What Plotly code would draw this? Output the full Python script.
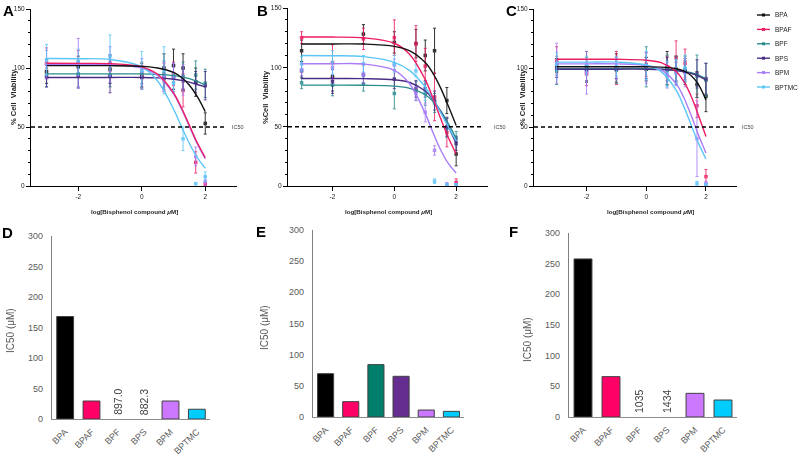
import plotly.graph_objects as go

W, H = 800, 457

COMPOUNDS = ["BPA", "BPAF", "BPF", "BPS", "BPM", "BPTMC"]
LOG_CONC = [-3, -2, -1, 0, 0.699, 1, 1.301, 1.699, 2]
FIT_LOG = [-3, -2, -1, 0, 0.5, 1, 1.25, 1.5, 1.75, 2]

LINE_COLORS = ["#111111", "#EC1C64", "#2B8C8C", "#4B2C85", "#A97CF8", "#5CC6F7"]
BAR_COLORS = ["#000000", "#FF0066", "#007F6C", "#662D91", "#CC77FF", "#00CCFF"]

# ---- Panel A (cell viability, %) ----
A_MEAN = {
    "BPA":   [97, 101, 99, 94, 100, 102, 100, 88, 53],
    "BPAF":  [104, 104, 104, 92, 92, 95, 81, 20, 1],
    "BPF":   [94, 95, 94, 96, 95, 93, 93, 94, 87],
    "BPS":   [92, 93, 93, 92, 91, 92, 91, 88, 85],
    "BPM":   [103, 104, 103, 97, 93, 92, 90, 25, 4],
    "BPTMC": [107, 105, 110, 98, 98, 87, 40, 2, 8],
}
A_SD = {
    "BPA":   [10, 9, 12, 10, 12, 14, 12, 12, 9],
    "BPAF":  [13, 11, 7, 10, 12, 10, 14, 9, 2],
    "BPF":   [10, 11, 10, 9, 11, 11, 12, 12, 12],
    "BPS":   [8, 10, 14, 9, 9, 10, 9, 9, 12],
    "BPM":   [12, 21, 15, 11, 12, 12, 13, 8, 4],
    "BPTMC": [13, 11, 18, 16, 20, 8, 10, 1, 4],
}
A_FIT = {
    "BPA":   [102, 102, 102, 101.4, 100, 96.2, 92, 85.4, 75.7, 63],
    "BPAF":  [104, 103.9, 103.7, 101, 94.7, 79, 66.3, 51.5, 36.6, 24.1],
    "BPF":   [95, 95, 95, 95, 94.6, 93.5, 92.5, 91, 88.6, 85.6],
    "BPS":   [92, 92, 92, 92, 91.6, 90.5, 89.5, 88, 86, 84],
    "BPM":   [103, 102.9, 102.7, 100, 93.7, 78, 65.3, 50.5, 35.6, 23.1],
    "BPTMC": [108, 107.9, 107.2, 101, 89, 65.3, 50.4, 36, 24, 15],
}

# ---- Panel B ----
B_MEAN = {
    "BPA":   [114, 92, 128, 121, 120, 110, 114, 72, 27],
    "BPAF":  [125, 104, 124, 125, 120, 101, 75, 45, 3],
    "BPF":   [87, 85, 86, 78, 80, 78, 70, 49, 40],
    "BPS":   [97, 88, 94, 90, 82, 82, 72, 50, 36],
    "BPM":   [98, 100, 94, 102, 78, 62, 30, 1, 1],
    "BPTMC": [103, 104, 103, 103, 97, 80, 4, 1, 1],
}
B_SD = {
    "BPA":   [9, 12, 8, 9, 12, 13, 19, 11, 10],
    "BPAF":  [5, 15, 9, 15, 15, 15, 20, 12, 3],
    "BPF":   [5, 9, 6, 13, 8, 10, 8, 8, 6],
    "BPS":   [6, 10, 8, 8, 7, 7, 8, 8, 6],
    "BPM":   [5, 10, 9, 5, 6, 8, 4, 2, 1],
    "BPTMC": [6, 10, 7, 7, 5, 8, 2, 1, 1],
}
B_FIT = {
    "BPA":   [119.7, 119.7, 119.6, 117.7, 113.9, 104, 94.9, 82.5, 67.2, 51],
    "BPAF":  [125.5, 125.5, 124.9, 120.3, 110.8, 89.6, 74, 56.8, 40.6, 27],
    "BPF":   [85, 85, 84.9, 84.2, 82.3, 76.9, 71.4, 63.2, 52.4, 40],
    "BPS":   [90.6, 90.6, 90.5, 89.5, 87.2, 80, 72.8, 62.6, 49.7, 36],
    "BPM":   [103, 103, 102.8, 97.5, 86, 61, 45, 30.3, 18.8, 11],
    "BPTMC": [110, 109.8, 109, 104.2, 97.2, 83.3, 73.3, 61.8, 49.7, 38],
}

# ---- Panel C ----
C_MEAN = {
    "BPA":   [102, 101, 100, 99, 100, 99, 97, 86, 76],
    "BPAF":  [106, 95, 100, 103, 101, 109, 104, 68, 8],
    "BPF":   [98, 99, 98, 101, 98, 98, 99, 93, 90],
    "BPS":   [100, 98, 99, 100, 99, 97, 98, 95, 91],
    "BPM":   [104, 96, 100, 100, 94, 96, 96, 40, 2],
    "BPTMC": [103, 102, 101, 102, 95, 97, 100, 2, 1],
}
C_SD = {
    "BPA":   [6, 13, 12, 10, 14, 11, 11, 11, 13],
    "BPAF":  [12, 10, 14, 10, 9, 14, 12, 10, 6],
    "BPF":   [12, 10, 11, 17, 13, 12, 11, 18, 14],
    "BPS":   [8, 9, 8, 9, 10, 8, 8, 12, 13],
    "BPM":   [17, 18, 10, 13, 11, 11, 12, 32, 2],
    "BPTMC": [10, 8, 8, 12, 11, 10, 11, 2, 1],
}
C_FIT = {
    "BPA":   [101, 101, 101, 101, 100.7, 99.4, 97.6, 93.7, 86, 73],
    "BPAF":  [107.4, 107.4, 107.4, 106.6, 104.5, 97, 88.8, 76.3, 59.8, 42],
    "BPF":   [99.5, 99.5, 99.5, 99.5, 99.2, 98.3, 97.4, 96, 94, 91],
    "BPS":   [99, 99, 99, 99, 98.7, 97.8, 96.8, 95.4, 93.2, 90],
    "BPM":   [103.5, 103.5, 103.5, 102.1, 98.5, 86.8, 75.4, 60.1, 43.2, 28],
    "BPTMC": [105, 105, 105, 102.5, 96.9, 81.3, 67.9, 52, 36.1, 23],
}

# ---- IC50 bar panels (uM) ----
D_IC50 = [168, 29.5, None, None, 29.5, 16]
D_LABELS = ["", "", "897.0", "882.3", "", ""]
E_IC50 = [69.5, 24.6, 84, 65.3, 11.2, 9.1]
E_LABELS = ["", "", "", "", "", ""]
F_IC50 = [257.7, 65.8, None, None, 38.6, 27.7]
F_LABELS = ["", "", "1035", "1434", "", ""]

IC50_LINE = 50
FONT = "Liberation Sans, Arial, sans-serif"


def fx(px):
    return px / W


def fy(py):
    return 1 - py / H


fig = go.Figure()
layout = dict(
    width=W, height=H, margin=dict(l=0, r=0, t=0, b=0, autoexpand=False),
    paper_bgcolor="white", plot_bgcolor="white", showlegend=False,
    font=dict(family=FONT, color="#222222"),
)
annotations = []
shapes = []

# ---------- top panels ----------
top_panels = [
    ("", A_MEAN, A_SD, A_FIT, (31, 237), 9, [-3.49, 3.0], "A", (8, 10),
     "% Cell  Viability", 13, 134, (227, 230)),
    ("2", B_MEAN, B_SD, B_FIT, (288, 488), 8, [-3.44, 3.03], "B", (262, 10),
     "%Cell  Viability", 265, 388, (484, 492)),
    ("3", C_MEAN, C_SD, C_FIT, (534, 737), 9, [-3.76, 3.04], "C", (511, 10),
     "% Cell  Viability", 522, 650, (737, 740)),
]

for (s, mean, sd, fit, (x0, x1), ytop, xr, letter, (lx, ly), ylab, ylx, xlx,
     (dash_end, ic_lbl)) in top_panels:
    xa, ya = "x" + s, "y" + s
    layout["xaxis" + s] = dict(
        domain=[fx(x0), fx(x1)], range=xr, anchor=ya, showline=True,
        linecolor="black", linewidth=1, ticks="outside", ticklen=4,
        tickcolor="black", tickvals=[-2, 0, 2], ticktext=["-2", "0", "2"],
        tickfont=dict(size=6.5, family=FONT, color="#222"), showgrid=False,
        zeroline=False, fixedrange=True, automargin=False,
    )
    layout["yaxis" + s] = dict(
        domain=[fy(186), fy(ytop)], range=[0, 150], anchor=xa, showline=True,
        linecolor="black", linewidth=1, ticks="outside", ticklen=4,
        tickcolor="black", tickvals=[0, 50, 100, 150],
        tickfont=dict(size=6.5, family=FONT, color="#222"), showgrid=False,
        zeroline=False, fixedrange=True, automargin=False,
        minor=dict(ticks="outside", ticklen=2, tickcolor="black",
                   tickmode="linear", tick0=0, dtick=10, showgrid=False),
    )
    # data points with SD
    for name, col in zip(COMPOUNDS, LINE_COLORS):
        fig.add_trace(go.Scatter(
            x=LOG_CONC, y=mean[name], mode="markers", xaxis=xa, yaxis=ya,
            marker=dict(size=3.5, color=col, symbol="square"),
            error_y=dict(type="data", array=sd[name], color=col,
                         thickness=1, width=1.5),
            opacity=0.85, cliponaxis=False, showlegend=False,
        ))
    # fitted curves
    for name in ["BPF", "BPS", "BPM", "BPTMC", "BPAF", "BPA"]:
        col = LINE_COLORS[COMPOUNDS.index(name)]
        fig.add_trace(go.Scatter(
            x=FIT_LOG, y=fit[name], mode="lines", xaxis=xa, yaxis=ya,
            line=dict(color=col, width=1.4, shape="spline", smoothing=1.0),
            cliponaxis=False, showlegend=False,
        ))
    # IC50 dashed reference line
    shapes.append(dict(
        type="line", xref="paper", yref=ya, x0=fx(x0), x1=fx(dash_end),
        y0=IC50_LINE, y1=IC50_LINE,
        line=dict(color="black", width=1.5, dash="4px,3px"),
    ))
    annotations.append(dict(
        x=fx(ic_lbl), y=IC50_LINE, xref="paper", yref=ya, text="IC50",
        showarrow=False, xanchor="left", yanchor="middle",
        font=dict(size=5.5, family=FONT, color="#444"),
    ))
    annotations.append(dict(
        x=fx(lx), y=fy(ly), xref="paper", yref="paper", text="<b>%s</b>" % letter,
        showarrow=False, xanchor="center", yanchor="middle",
        font=dict(size=15, family=FONT, color="black"),
    ))
    annotations.append(dict(
        x=fx(ylx), y=fy(97), xref="paper", yref="paper", text="<b>%s</b>" % ylab,
        showarrow=False, textangle=-90, xanchor="center", yanchor="middle",
        font=dict(size=7.5, family=FONT, color="#222"),
    ))
    annotations.append(dict(
        x=fx(xlx), y=fy(211), xref="paper", yref="paper",
        text="<b>log[Bisphenol compound <i>μ</i>M]</b>",
        showarrow=False, xanchor="center", yanchor="middle",
        font=dict(size=6.2, family=FONT, color="#222"),
    ))

# legend (manual, right of panel C)
for i, (name, col) in enumerate(zip(COMPOUNDS, LINE_COLORS)):
    yy = 15 + i * 14.4
    shapes.append(dict(type="line", xref="paper", yref="paper",
                       x0=fx(757), x1=fx(770), y0=fy(yy), y1=fy(yy),
                       line=dict(color=col, width=1.4)))
    shapes.append(dict(type="rect", xref="paper", yref="paper",
                       x0=fx(762), x1=fx(765), y0=fy(yy - 1.5), y1=fy(yy + 1.5),
                       line=dict(width=0), fillcolor=col))
    annotations.append(dict(
        x=fx(773), y=fy(yy), xref="paper", yref="paper", text=name,
        showarrow=False, xanchor="left", yanchor="middle",
        font=dict(size=6.5, family=FONT, color="#222"),
    ))

# ---------- bottom bar panels ----------
bar_panels = [
    ("4", D_IC50, D_LABELS, (52, 210), (419, 236), "D", (7, 232), (10, 331)),
    ("5", E_IC50, E_LABELS, (313, 464), (417, 230), "E", (261, 231), (264, 328)),
    ("6", F_IC50, F_LABELS, (569, 737), (417, 233), "F", (513, 231), (527, 340)),
]

for s, vals, labels, (x0, x1), (yb, yt), letter, (lx, ly), (tx, ty) in bar_panels:
    xa, ya = "x" + s, "y" + s
    layout["xaxis" + s] = dict(
        domain=[fx(x0), fx(x1)], type="category", range=[-0.5, 5.5], anchor=ya,
        showline=True, linecolor="#8C8C8C", linewidth=1.2, ticks="",
        tickangle=-45, tickfont=dict(size=9, family=FONT, color="#595959"),
        showgrid=False, zeroline=False, fixedrange=True, ticklabelstandoff=3,
        automargin=False,
    )
    layout["yaxis" + s] = dict(
        domain=[fy(yb), fy(yt)], range=[0, 300], dtick=50, anchor=xa,
        showline=True, linecolor="#7F7F7F", linewidth=1.2, ticks="",
        tickfont=dict(size=9, family=FONT, color="#595959"),
        showgrid=False, zeroline=False, fixedrange=True, ticklabelstandoff=6,
        automargin=False,
    )
    fig.add_trace(go.Bar(
        x=COMPOUNDS, y=vals, xaxis=xa, yaxis=ya, width=0.64,
        marker=dict(color=BAR_COLORS, line=dict(color="#404040", width=1)),
        showlegend=False,
    ))
    for name, lab in zip(COMPOUNDS, labels):
        if lab:
            annotations.append(dict(
                x=name, y=0, xref=xa, yref=ya, text=lab, textangle=-90,
                showarrow=False, xanchor="center", yanchor="bottom", yshift=2,
                font=dict(size=10.5, family=FONT, color="#404040"),
            ))
    annotations.append(dict(
        x=fx(lx), y=fy(ly), xref="paper", yref="paper", text="<b>%s</b>" % letter,
        showarrow=False, xanchor="center", yanchor="middle",
        font=dict(size=15, family=FONT, color="black"),
    ))
    annotations.append(dict(
        x=fx(tx), y=fy(ty), xref="paper", yref="paper", text="IC50 (μM)",
        showarrow=False, textangle=-90, xanchor="center", yanchor="middle",
        font=dict(size=10, family=FONT, color="#595959"),
    ))

layout["annotations"] = annotations
layout["shapes"] = shapes
fig.update_layout(**layout)
fig.write_html(
    "out.html",
    config={"displayModeBar": False},
    post_script="document.body.style.margin='0px';document.body.style.overflow='hidden';",
)
